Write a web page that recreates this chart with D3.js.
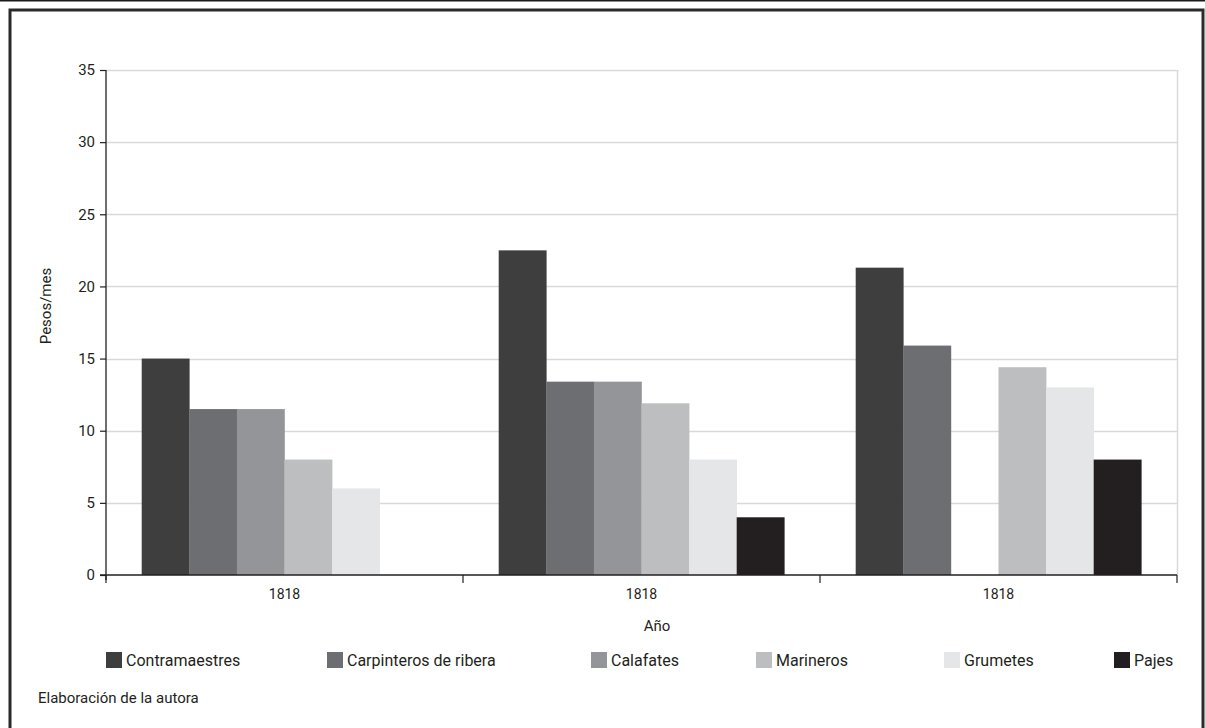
<!DOCTYPE html>
<html>
<head>
<meta charset="utf-8">
<script src="https://cdn.jsdelivr.net/npm/d3@7"></script>
<style>
  html, body { margin: 0; padding: 0; background: #fff; }
  svg { display: block; font-family: Roboto, "Liberation Sans", sans-serif; }
</style>
</head>
<body>
<svg id="chart" width="1205" height="728"></svg>
<script>
// ---- Data ----
const groups = ["1818 (a)", "1818 (b)", "1818 (c)"];
const groupLabels = ["1818", "1818", "1818"];
const seriesNames = ["Contramaestres", "Carpinteros de ribera", "Calafates", "Marineros", "Grumetes", "Pajes"];
const contramaestres = [15, 22.5, 21.3];
const carpinteros = [11.5, 13.4, 15.9];
const calafates = [11.5, 13.4, null];
const marineros = [8, 11.9, 14.4];
const grumetes = [6, 8, 13];
const pajes = [null, 4, 8];
const seriesValues = [contramaestres, carpinteros, calafates, marineros, grumetes, pajes];
const seriesColors = ["#3e3e3e", "#6d6e71", "#939598", "#bcbec0", "#e5e6e7", "#231f20"];
const yTicks = [0, 5, 10, 15, 20, 25, 30, 35];
const yTitle = "Pesos/mes";
const xTitle = "Año";
const note = "Elaboración de la autora";
const legendX = [106, 327, 591, 756, 944, 1114];

// ---- Layout ----
const svg = d3.select("#chart");
const W = 1205, H = 728;
const plot = { left: 106, right: 1177, top: 70, bottom: 575 };
const textColor = "#231f20";

// Frame
svg.append("line").attr("x1", 0).attr("x2", W).attr("y1", 0.5).attr("y2", 0.5)
  .attr("stroke", "#1a1a1a").attr("stroke-width", 2);
svg.append("rect").attr("x", 10).attr("y", 10).attr("width", W - 12).attr("height", H + 10)
  .attr("fill", "none").attr("stroke", "#2a2a2a").attr("stroke-width", 3);

const y = d3.scaleLinear().domain([0, 35]).range([plot.bottom, plot.top]);
const x0 = d3.scaleBand().domain(groups).range([plot.left, plot.right]).padding(0);
const x1 = d3.scaleBand().domain(seriesNames).range([0, x0.bandwidth()])
  .paddingInner(0).paddingOuter(0.75);

// Gridlines
svg.append("g").selectAll("line").data(yTicks.filter(d => d > 0)).join("line")
  .attr("x1", plot.left).attr("x2", plot.right)
  .attr("y1", d => Math.round(y(d)) + 0.5).attr("y2", d => Math.round(y(d)) + 0.5)
  .attr("stroke", "#d9d9d9").attr("stroke-width", 1.5);
// Right border of plot
svg.append("line").attr("x1", plot.right + 0.5).attr("x2", plot.right + 0.5)
  .attr("y1", y(35)).attr("y2", plot.bottom)
  .attr("stroke", "#d9d9d9").attr("stroke-width", 1.5);

// Bars
const barData = [];
groups.forEach((g, gi) => {
  seriesNames.forEach((s, si) => {
    const v = seriesValues[si][gi];
    if (v !== null && v !== undefined) barData.push({ g, s, v, c: seriesColors[si] });
  });
});
svg.append("g").selectAll("rect").data(barData).join("rect")
  .attr("x", d => x0(d.g) + x1(d.s))
  .attr("width", x1.bandwidth() + 0.3)
  .attr("y", d => y(d.v))
  .attr("height", d => y(0) - y(d.v))
  .attr("fill", d => d.c);

// Y axis
const yAxis = svg.append("g").attr("transform", `translate(${plot.left},0)`)
  .call(d3.axisLeft(y).tickValues(yTicks).tickSize(6).tickPadding(5));
yAxis.select(".domain").attr("stroke", "#231f20").attr("stroke-width", 1.3)
  .attr("d", `M0,${plot.top}V${plot.bottom + 5}`);
yAxis.selectAll(".tick line").attr("stroke", "#231f20").attr("stroke-width", 1.2);
yAxis.selectAll("text").attr("fill", textColor).attr("font-size", 15)
  .attr("font-family", "Roboto, sans-serif");

// X axis
const xAxis = svg.append("g").attr("transform", `translate(0,${plot.bottom})`)
  .call(d3.axisBottom(x0).tickSize(0).tickPadding(14).tickFormat((d, i) => groupLabels[i]));
xAxis.select(".domain").attr("stroke", "#231f20").attr("stroke-width", 1.5)
  .attr("d", `M${plot.left - 6},0H${plot.right}`);
xAxis.selectAll("text").attr("fill", textColor).attr("font-size", 14)
  .attr("font-family", "Roboto, sans-serif");
// Group boundary ticks
const boundaries = groups.map(g => x0(g)).concat([x0(groups[groups.length - 1]) + x0.bandwidth()]);
xAxis.append("g").selectAll("line").data(boundaries).join("line")
  .attr("x1", d => d).attr("x2", d => d).attr("y1", 0).attr("y2", 8)
  .attr("stroke", "#231f20").attr("stroke-width", 1.2);

// Axis titles
svg.append("text").attr("transform", `translate(51,306) rotate(-90)`)
  .attr("text-anchor", "middle").attr("font-size", 15).attr("fill", textColor).text(yTitle);
svg.append("text").attr("x", 657).attr("y", 631).attr("text-anchor", "middle")
  .attr("font-size", 15).attr("fill", textColor).text(xTitle);

// Legend
const legend = svg.append("g").selectAll("g").data(seriesNames).join("g")
  .attr("transform", (d, i) => `translate(${legendX[i]},652)`);
legend.append("rect").attr("width", 16).attr("height", 16).attr("fill", (d, i) => seriesColors[i]);
legend.append("text").attr("x", 20).attr("y", 14).attr("font-size", 16).attr("fill", textColor).text(d => d);

// Note
svg.append("text").attr("x", 38).attr("y", 703).attr("font-size", 15).attr("fill", textColor).text(note);
</script>
</body>
</html>
